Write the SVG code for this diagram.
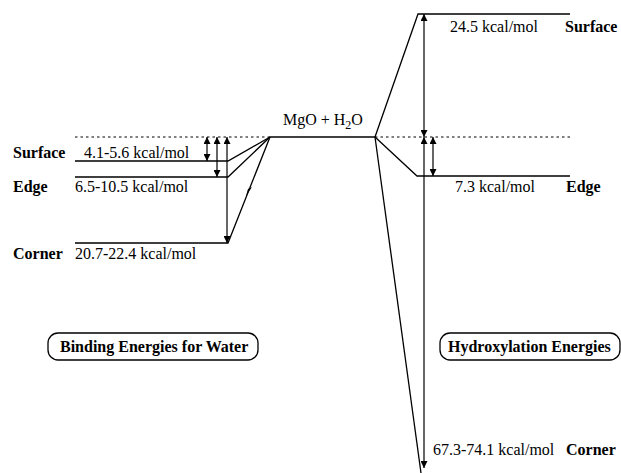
<svg xmlns="http://www.w3.org/2000/svg" width="621" height="473" viewBox="0 0 621 473">
<style>
.ln{stroke:#000;stroke-width:1.3;fill:none}
.dot{stroke:#000;stroke-width:1;stroke-dasharray:2.5,3;fill:none}
.ar{stroke:#000;stroke-width:1.2;fill:none;marker-start:url(#ah);marker-end:url(#ah)}
text{font-family:'Liberation Serif','DejaVu Serif',serif;font-size:16px;fill:#000}
.b{font-weight:bold}
.box{fill:#fff;stroke:#000;stroke-width:1.3}
</style>
<defs>
<marker id="ah" viewBox="0 0 10 10" refX="10" refY="5" markerWidth="10" markerHeight="7" markerUnits="userSpaceOnUse" orient="auto-start-reverse">
<path d="M0,0 L10,5 L0,10 z" fill="#000"/>
</marker>
</defs>
<rect width="621" height="473" fill="#fff"/>
<g id="connectors">
<line class="dot" x1="75" y1="137" x2="270" y2="137"/>
<line class="dot" x1="375" y1="137" x2="570" y2="137"/>
<line class="ln" x1="270" y1="137" x2="375" y2="137"/>
<polyline class="ln" points="75,161 228,161 270,137"/>
<polyline class="ln" points="75,177 228,177 270,137"/>
<polyline class="ln" points="75,243 228,243 270,137"/>
<polygon points="246,196 252,187 248,189" fill="#000"/>
<line class="ar" x1="207" y1="137" x2="207" y2="161"/>
<line class="ar" x1="217" y1="137" x2="217" y2="177"/>
<line class="ar" x1="227" y1="137" x2="227" y2="243"/>
<polyline class="ln" points="375,137 418,14 570,14"/>
<polyline class="ln" points="375,137 417,176 570,176"/>
<line class="ln" x1="375" y1="137" x2="421" y2="473"/>
<line class="ar" x1="424" y1="14" x2="424" y2="137"/>
<line class="ar" x1="424" y1="137" x2="424" y2="468"/>
<line class="ar" x1="433" y1="137" x2="433" y2="176"/>
</g>
<g id="reactants">
<text x="283" y="125">MgO + H<tspan font-size="12" dy="4">2</tspan><tspan dy="-4">O</tspan></text>
</g>
<g id="surface-binding">
<text class="b" x="13" y="158">Surface</text>
<text x="84" y="158">4.1-5.6 kcal/mol</text>
</g>
<g id="edge-binding">
<text class="b" x="13" y="192">Edge</text>
<text x="75" y="192">6.5-10.5 kcal/mol</text>
</g>
<g id="corner-binding">
<text class="b" x="13" y="259">Corner</text>
<text x="75" y="259">20.7-22.4 kcal/mol</text>
</g>
<g id="surface-hydroxylation">
<text x="450" y="32">24.5 kcal/mol</text>
<text class="b" x="565" y="32">Surface</text>
</g>
<g id="edge-hydroxylation">
<text x="455" y="192">7.3 kcal/mol</text>
<text class="b" x="566" y="192">Edge</text>
</g>
<g id="corner-hydroxylation">
<text x="433" y="455">67.3-74.1 kcal/mol</text>
<text class="b" x="566" y="455">Corner</text>
</g>
<g id="binding-label">
<rect class="box" x="48" y="333" width="210" height="27" rx="10"/>
<text class="b" x="60" y="352">Binding Energies for Water</text>
</g>
<g id="hydroxylation-label">
<rect class="box" x="440" y="333" width="180" height="27" rx="10"/>
<text class="b" x="448" y="352">Hydroxylation Energies</text>
</g>
</svg>
